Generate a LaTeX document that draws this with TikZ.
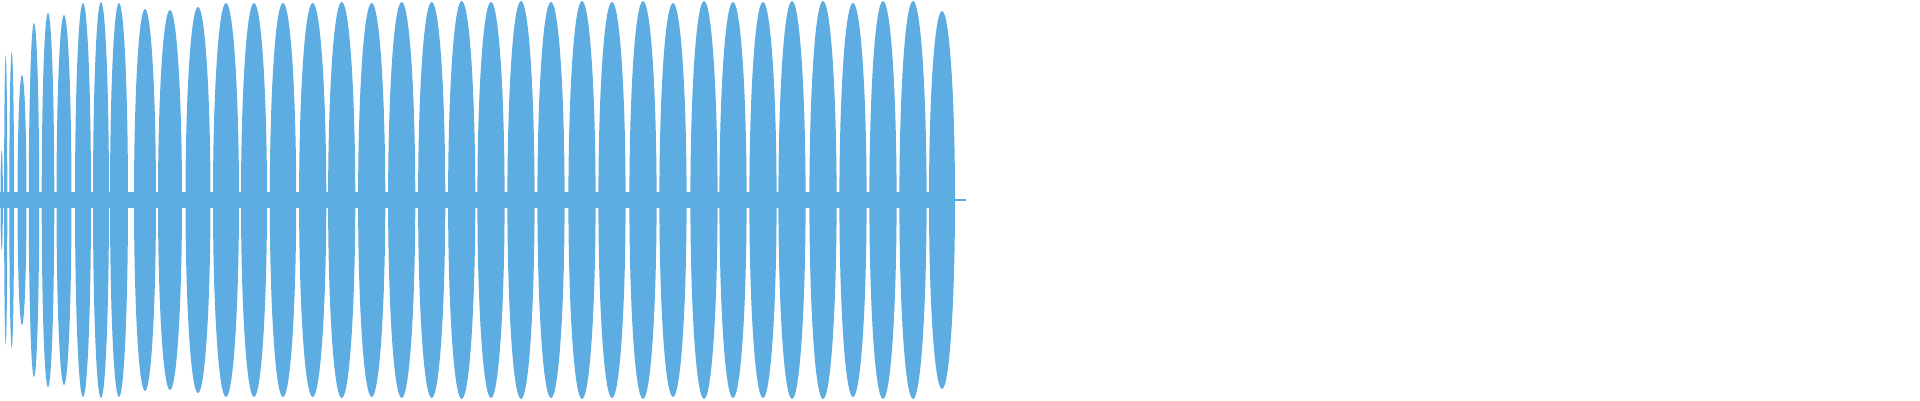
\documentclass[tikz,border=0pt]{standalone}
\definecolor{wave}{RGB}{93,173,226}
\begin{document}
\begin{tikzpicture}[x=1pt,y=1pt,lobe/.style={fill=wave}]
\useasboundingbox (0,0) rectangle (1920,400);
\fill[wave] (0,192) rectangle (955,208);
\fill[wave] (955,199) rectangle (966,201);
\foreach \cx/\hw/\hh in {1.7/1.2/50,5.7/1.6/145,11.7/2.4/148,22/4.5/125,34/5.2/177,48/6.3/187,64/7.5/185,83/8/197,101/8/198,119/9/197,145/11/191,170/12/190,198/12.5/193,226/13/197,254/13/197,283/13.2/197}
  \fill[lobe] (\cx,200) ellipse [x radius=\hw, y radius=\hh];
\foreach \cx/\hh in {312.7/197,341.7/198,371.7/197,401.7/198,431.7/198,461.7/199,491/198,521/199,551/198,582/199,612/198,643/199,673/197,704/199,733/198,763/198,792/199,823/199,853/197,883/199,913/199}
  \fill[lobe] (\cx,200) ellipse [x radius=13.6, y radius=\hh];
\fill[lobe] (942,200) ellipse [x radius=13, y radius=189];
\end{tikzpicture}
\end{document}
